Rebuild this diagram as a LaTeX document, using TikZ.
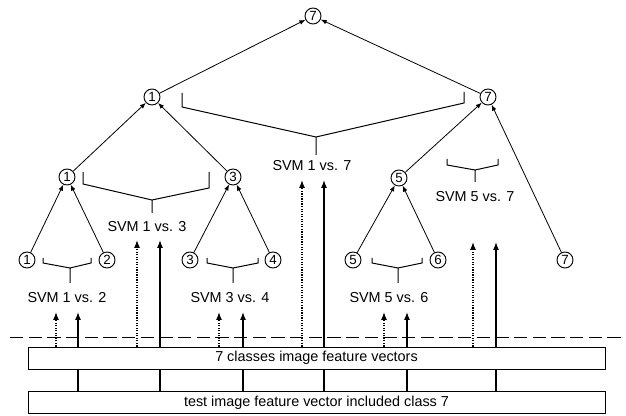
\documentclass[tikz,border=0pt]{standalone}
\usepackage{fontspec}
\setmainfont{Liberation Sans}
\usetikzlibrary{arrows.meta,positioning}

\begin{document}
\begin{tikzpicture}[
    x=0.75pt,y=-0.75pt,
    cls/.style={circle,draw,line width=0.7pt,minimum size=12pt,inner sep=0pt,font=\fontsize{10}{10}\selectfont},
    vote/.style={-{Latex[length=4.5pt,width=3.5pt]},line width=0.6pt},
    brace/.style={line width=0.75pt},
    svm/.style={font=\fontsize{10.8}{13}\selectfont},
    vecbox/.style={draw,line width=0.7pt,minimum width=432.75pt,minimum height=16.5pt,inner sep=0pt,font=\fontsize{10.8}{13}\selectfont},
    solidup/.style={-{Latex[length=6pt,width=4.5pt]},line width=0.9pt},
    dotup/.style={solidup,densely dotted}
  ]
    \useasboundingbox (0,0) rectangle (626,416);

    % tournament tree
    \node[cls] (root) at (313,16) {7};
    \node[cls] (p1) at (152,97) {1};
    \node[cls] (p7) at (488,97) {7};
    \node[cls] (q1) at (67,177) {1};
    \node[cls] (q3) at (233,177) {3};
    \node[cls] (q5) at (399,178) {5};
    \node[cls] (c1) at (27,260) {1};
    \node[cls] (c2) at (107,260) {2};
    \node[cls] (c3) at (190,260) {3};
    \node[cls] (c4) at (273,260) {4};
    \node[cls] (c5) at (353,260) {5};
    \node[cls] (c6) at (438,260) {6};
    \node[cls] (c7) at (565,260) {7};

    \draw[vote] (p1) -- (root);
    \draw[vote] (p7) -- (root);
    \draw[vote] (q1) -- (p1);
    \draw[vote] (q3) -- (p1);
    \draw[vote] (q5) -- (p7);
    \draw[vote] (c7) -- (p7);
    \draw[vote] (c1) -- (q1);
    \draw[vote] (c2) -- (q1);
    \draw[vote] (c3) -- (q3);
    \draw[vote] (c4) -- (q3);
    \draw[vote] (c5) -- (q5);
    \draw[vote] (c6) -- (q5);

    % pairwise classifiers
    \draw[brace] (43,258) -- (43,263) -- (70,268) -- (91,263) -- (91,258) (70,268) -- (70,283);
    \draw[brace] (207,258) -- (207,263) -- (233,268) -- (258,263) -- (258,258) (233,268) -- (233,283);
    \draw[brace] (372,258) -- (372,263) -- (398,268) -- (422,263) -- (422,258) (398,268) -- (398,283);
    \draw[brace] (83,172) -- (83,184) -- (152,200) -- (209,188) -- (209,172) (152,200) -- (152,213);
    \draw[brace] (447,159) -- (447,165) -- (475,170) -- (498,165) -- (498,159) (475,170) -- (475,182);
    \draw[brace] (182,93) -- (182,107) -- (316,137) -- (464,103) -- (464,92) (316,137) -- (316,155);

    \node[svm] (svm12) at (67,298) {SVM 1 vs. 2};
    \node[svm] (svm34) at (230,298) {SVM 3 vs. 4};
    \node[svm] (svm56) at (389,298) {SVM 5 vs. 6};
    \node[svm] (svm13) at (147,227) {SVM 1 vs. 3};
    \node[svm] (svm57) at (475,197) {SVM 5 vs. 7};
    \node[svm] (svm17) at (312,166) {SVM 1 vs. 7};

    % feature vectors
    \draw[dashed,dash pattern=on 10pt off 4pt,line width=0.6pt] (10,337) -- (626,337);
    \node[vecbox] (vecs) at (316.5,358) {7 classes image feature vectors};
    \node[vecbox,below=16.5pt of vecs] (test) {test image feature vector included class 7};

    \coordinate (d12) at (56,312);
    \coordinate (s12) at (78,312);
    \coordinate (d13) at (137,240);
    \coordinate (s13) at (160,240);
    \coordinate (d34) at (219,312);
    \coordinate (s34) at (243,312);
    \coordinate (d17) at (302,180);
    \coordinate (s17) at (324,180);
    \coordinate (d56) at (384,312);
    \coordinate (s56) at (407,312);
    \coordinate (d57) at (473,242);
    \coordinate (s57) at (496,242);

    \draw[dotup] (vecs.north -| d12) -- (d12);
    \draw[solidup] (vecs.north -| s12) -- (s12);
    \draw[dotup] (vecs.north -| d13) -- (d13);
    \draw[solidup] (vecs.north -| s13) -- (s13);
    \draw[dotup] (vecs.north -| d34) -- (d34);
    \draw[solidup] (vecs.north -| s34) -- (s34);
    \draw[dotup] (vecs.north -| d17) -- (d17);
    \draw[solidup] (vecs.north -| s17) -- (s17);
    \draw[dotup] (vecs.north -| d56) -- (d56);
    \draw[solidup] (vecs.north -| s56) -- (s56);
    \draw[dotup] (vecs.north -| d57) -- (d57);
    \draw[solidup] (vecs.north -| s57) -- (s57);

    \draw[line width=0.9pt] (test.north -| s12) -- (vecs.south -| s12);
    \draw[line width=0.9pt] (test.north -| s13) -- (vecs.south -| s13);
    \draw[line width=0.9pt] (test.north -| s34) -- (vecs.south -| s34);
    \draw[line width=0.9pt] (test.north -| s17) -- (vecs.south -| s17);
    \draw[line width=0.9pt] (test.north -| s56) -- (vecs.south -| s56);
    \draw[line width=0.9pt] (test.north -| s57) -- (vecs.south -| s57);
\end{tikzpicture}
\end{document}
